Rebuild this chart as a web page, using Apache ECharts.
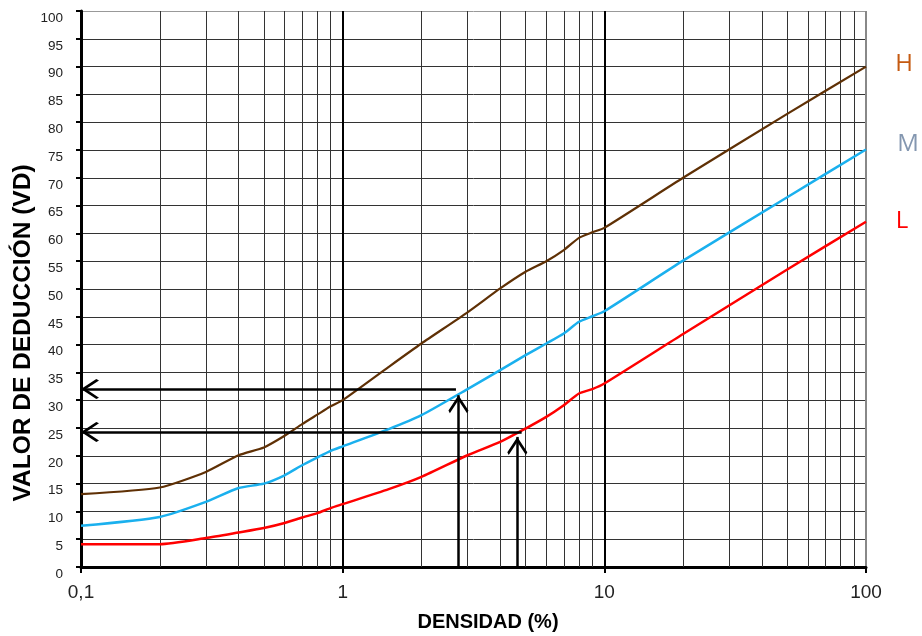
<!DOCTYPE html>
<html>
<head>
<meta charset="utf-8">
<script src="https://cdn.jsdelivr.net/npm/echarts@6/dist/echarts.min.js"></script>
<style>
  html, body { margin: 0; padding: 0; background: #fff; }
  #chart { width: 922px; height: 636px; }
</style>
</head>
<body>
<div id="chart"></div>
<script>
// densidad (%) y valores de deducción
const densidad = [0.1, 0.2, 0.3, 0.4, 0.5, 0.6, 0.7, 0.8, 0.9, 1, 1.5, 2, 3, 4, 5, 6, 7, 8, 9, 10, 20, 50, 100];
const curvaH = [13.1, 14.3, 17.1, 20.1, 21.5, 23.6, 25.7, 27.4, 28.9, 30.0, 36.0, 40.2, 45.8, 50.1, 53.1, 55.0, 57.0, 59.2, 60.2, 61.0, 70.0, 81.5, 90.0];
const curvaM = [7.4, 9.0, 11.7, 14.2, 15.0, 16.5, 18.3, 19.7, 20.9, 21.7, 24.8, 27.3, 32.0, 35.4, 38.1, 40.2, 42.0, 44.1, 45.1, 46.0, 55.1, 66.5, 75.1];
const curvaL = [4.1, 4.1, 5.2, 6.2, 7.0, 7.9, 8.9, 9.7, 10.6, 11.3, 14.0, 16.2, 20.1, 22.5, 24.9, 27.0, 29.1, 31.2, 32.0, 33.0, 41.9, 53.5, 62.1];

// líneas verticales secundarias de la escala log
const rejillaX = [0.2, 0.3, 0.4, 0.5, 0.6, 0.7, 0.8, 0.9, 2, 3, 4, 5, 6, 7, 8, 9, 20, 30, 40, 50, 60, 70, 80, 90];

// flechas: [x, valor de la punta] desde 0 hacia arriba
const flechasV = [[2.77, 30.9], [4.65, 23.4]];
// flechas: [x inicial, valor] hacia el eje (0,1)
const flechasH = [[2.71, 32.0], [4.83, 24.3]];

const chart = echarts.init(document.getElementById('chart'));

// punta abierta; el M inicial deja la punta en el centro del símbolo
const punta = 'path://M10,-10M10,0L20,8.5L18.6,10L10,2.8L1.4,10L0,8.5Z';
const pares = arr => densidad.map((x, i) => [x, arr[i]]);

const lineasFlecha = [];
flechasV.forEach(f => lineasFlecha.push([{ coord: [f[0], 0] }, { coord: [f[0], f[1]] }]));
flechasH.forEach(f => lineasFlecha.push([{ coord: [f[0], f[1]] }, { coord: [0.1, f[1]] }]));

const yTicks = [];
for (let v = 0; v <= 100; v += 5) yTicks.push(v);

chart.setOption({
  animation: false,
  grid: { left: 81, right: 56, top: 11, bottom: 69 },
  xAxis: {
    type: 'log',
    logBase: 10,
    min: 0.1,
    max: 100,
    axisLine: { lineStyle: { color: '#000', width: 3 } },
    axisTick: { show: true, length: 6, lineStyle: { color: '#000', width: 2 } },
    axisLabel: {
      fontFamily: 'Liberation Sans', fontSize: 19, color: '#222', margin: 16,
      formatter: v => String(Number(v.toPrecision(3))).replace('.', ',')
    },
    splitLine: { show: true, lineStyle: { color: ['#000', '#000', '#000', '#888'], width: 2 } },
    minorTick: { show: false }
  },
  yAxis: {
    type: 'value',
    min: 0,
    max: 100,
    interval: 5,
    axisLine: { show: true, lineStyle: { color: '#000', width: 3 } },
    axisTick: { show: true, length: 5, lineStyle: { color: '#000', width: 2 } },
    axisLabel: {
      fontFamily: 'Liberation Sans', fontSize: 13.5, color: '#222', margin: 18,
      verticalAlign: 'top'
    },
    splitLine: {
      show: true,
      lineStyle: { color: yTicks.map(v => (v === 100 ? '#999' : '#333')), width: 1 }
    }
  },
  graphic: [
    { type: 'text', x: 23, y: 333, rotation: Math.PI / 2,
      style: { text: 'VALOR DE DEDUCCIÓN (VD)', fontFamily: 'Liberation Sans', fontWeight: 'bold', fontSize: 24.5, fill: '#000', align: 'center', verticalAlign: 'middle' } },
    { type: 'text', x: 488, y: 622,
      style: { text: 'DENSIDAD (%)', fontFamily: 'Liberation Sans', fontWeight: 'bold', fontSize: 20, fill: '#000', align: 'center', verticalAlign: 'middle' } },
    { type: 'text', x: 904, y: 64,
      style: { text: 'H', fontFamily: 'Open Sans', fontSize: 24, fill: '#c55a11', align: 'center', verticalAlign: 'middle' } },
    { type: 'text', x: 908, y: 144,
      style: { text: 'M', fontFamily: 'Open Sans', fontSize: 24, fill: '#8497b0', align: 'center', verticalAlign: 'middle' } },
    { type: 'text', x: 902, y: 221,
      style: { text: 'L', fontFamily: 'Open Sans', fontSize: 24, fill: '#ff0000', align: 'center', verticalAlign: 'middle' } }
  ],
  series: [
    {
      name: 'rejilla',
      type: 'line',
      data: [],
      z: 1,
      markLine: {
        silent: true,
        z: 1,
        symbol: 'none',
        label: { show: false },
        lineStyle: { color: '#333', width: 1, type: 'solid' },
        data: rejillaX.map(v => ({ xAxis: v }))
      }
    },
    {
      name: 'H', type: 'line', data: pares(curvaH), smooth: 0.2, showSymbol: false,
      lineStyle: { color: '#5f3005', width: 2.2 }, z: 3
    },
    {
      name: 'M', type: 'line', data: pares(curvaM), smooth: 0.2, showSymbol: false,
      lineStyle: { color: '#1ab0ee', width: 2.5 }, z: 3
    },
    {
      name: 'L', type: 'line', data: pares(curvaL), smooth: 0.2, showSymbol: false,
      lineStyle: { color: '#ff0000', width: 2.5 }, z: 3
    },
    {
      name: 'flechas',
      type: 'line',
      data: [],
      z: 4,
      markLine: {
        silent: true,
        z: 6,
        symbol: ['none', punta],
        symbolSize: [20, 36],
        label: { show: false },
        lineStyle: { color: '#000', width: 2.5, type: 'solid' },
        data: lineasFlecha
      }
    }
  ]
});
</script>
</body>
</html>
